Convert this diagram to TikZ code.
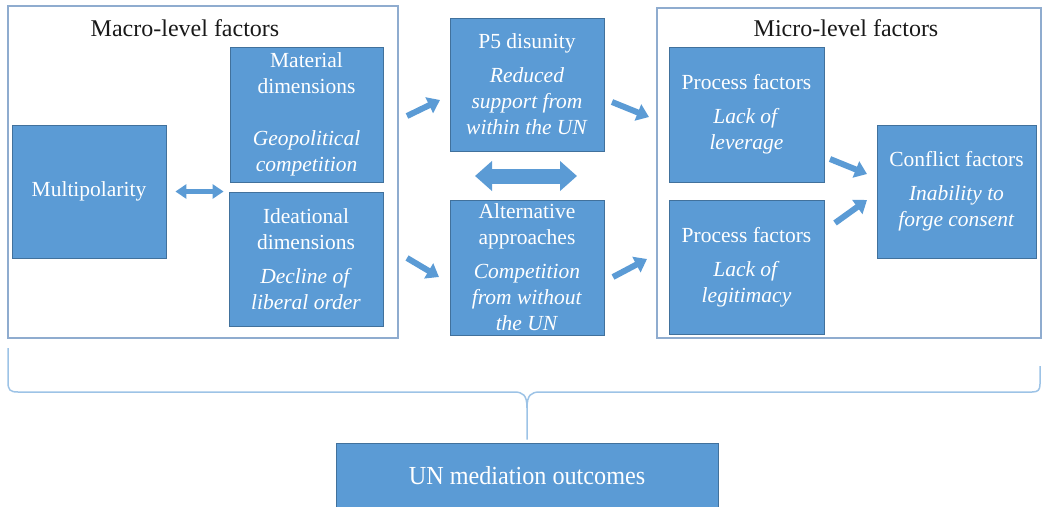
\documentclass[tikz,border=0pt]{standalone}
\usepackage{fontspec}
\setmainfont{Liberation Serif}
\usetikzlibrary{arrows.meta}
\definecolor{boxblue}{RGB}{91,155,213}
\definecolor{boxborder}{RGB}{65,113,156}
\definecolor{framecol}{RGB}{143,172,207}
\definecolor{bracecol}{RGB}{157,195,230}
\definecolor{titlecol}{RGB}{25,25,25}
\tikzset{
  box/.style={draw=boxborder, line width=0.8pt, fill=boxblue, text=white, align=center, inner sep=0pt,
    font=\fontsize{21.5}{26}\selectfont},
  framebox/.style={draw=framecol, line width=1.3pt, inner sep=0pt},
  titletext/.style={text=titlecol, anchor=base, inner sep=0pt, font=\fontsize{24}{28}\selectfont},
  onearrow/.style={draw=boxblue, line width=6pt, -{Triangle[length=12pt,width=17pt]}},
  smalldouble/.style={draw=boxblue, line width=5pt, {Triangle[length=11pt,width=14pt]}-{Triangle[length=11pt,width=14pt]}},
  bigdouble/.style={draw=boxblue, line width=15pt, {Triangle[length=17pt,width=29pt]}-{Triangle[length=17pt,width=29pt]}},
  bracepath/.style={draw=bracecol, line width=1.5pt},
}
\begin{document}
\begin{tikzpicture}[x=1pt,y=-1pt]
\useasboundingbox (0,0) rectangle (1043,506);
% frames
\node[framebox, minimum width=390pt, minimum height=332pt] (macro) at (203,172) {};
\node[framebox, minimum width=384pt, minimum height=330pt] (micro) at (849,173) {};
\node[titletext] (macrot) at (185,36) {Macro-level factors};
\node[titletext] (microt) at (846,36) {Micro-level factors};
% boxes
\node[box, minimum width=154pt, minimum height=133pt] (multi) at (89,191.5) {Multipolarity};
\node[box, minimum width=153pt, minimum height=135pt] (material) at (306.5,114.5)
  {Material\\dimensions\\[26pt]\textit{Geopolitical}\\\textit{competition}};
\node[box, minimum width=154pt, minimum height=134pt] (ideational) at (306,259)
  {Ideational\\dimensions\\[8pt]\textit{Decline of}\\\textit{liberal order}};
\node[box, minimum width=154pt, minimum height=133pt] (p5) at (527,84.5)
  {P5 disunity\\[8pt]\textit{Reduced}\\\textit{support from}\\\textit{within the UN}};
\node[box, minimum width=154pt, minimum height=135pt] (alt) at (527,267.5)
  {Alternative\\approaches\\[8pt]\textit{Competition}\\\textit{from without}\\\textit{the UN}};
\node[box, minimum width=155pt, minimum height=135pt] (proc1) at (746.5,114.5)
  {Process factors\\[8pt]\textit{Lack of}\\\textit{leverage}};
\node[box, minimum width=155pt, minimum height=134pt] (proc2) at (746.5,267)
  {Process factors\\[8pt]\textit{Lack of}\\\textit{legitimacy}};
\node[box, minimum width=159pt, minimum height=133pt] (conflict) at (956.5,191.5)
  {Conflict factors\\[8pt]\textit{Inability to}\\\textit{forge consent}};
\node[box, minimum width=382pt, minimum height=66pt] (un) at (527,476)
  {\fontsize{26}{30}\selectfont\scalebox{0.93}[1]{UN mediation outcomes}};
% double arrows
\draw[smalldouble, shorten <=9pt, shorten >=6pt] (multi.east) -- (multi.east -| material.west);
\coordinate (bdl) at (475,176);
\coordinate (bdr) at (577,176);
\draw[bigdouble] (bdl) -- (bdr);
% single arrows
\coordinate (a1s) at (407,116); \coordinate (a1e) at (440,100);
\coordinate (a2s) at (407,258); \coordinate (a2e) at (439,277);
\coordinate (a3s) at (612,102); \coordinate (a3e) at (649,117);
\coordinate (a4s) at (613,277); \coordinate (a4e) at (647,259);
\coordinate (a5s) at (830,159); \coordinate (a5e) at (867,174);
\coordinate (a6s) at (835,223); \coordinate (a6e) at (867,200);
\draw[onearrow] (a1s) -- (a1e);
\draw[onearrow] (a2s) -- (a2e);
\draw[onearrow] (a3s) -- (a3e);
\draw[onearrow] (a4s) -- (a4e);
\draw[onearrow] (a5s) -- (a5e);
\draw[onearrow] (a6s) -- (a6e);
% brace
\coordinate (brl) at (8,348);
\coordinate (brr) at (1040,366);
\coordinate (brtip) at (527,408);
\draw[bracepath] (brl) -- (8,382) .. controls (8,390) and (10,392) .. (18,392) -- (514,392)
  .. controls (523,392) and (527,395) .. (brtip) -- ([yshift=3pt]un.north);
\draw[bracepath] (brr) -- (1040,384) .. controls (1040,390) and (1038,392) .. (1032,392) -- (540,392)
  .. controls (531,392) and (527,395) .. (brtip);
\end{tikzpicture}
\end{document}
